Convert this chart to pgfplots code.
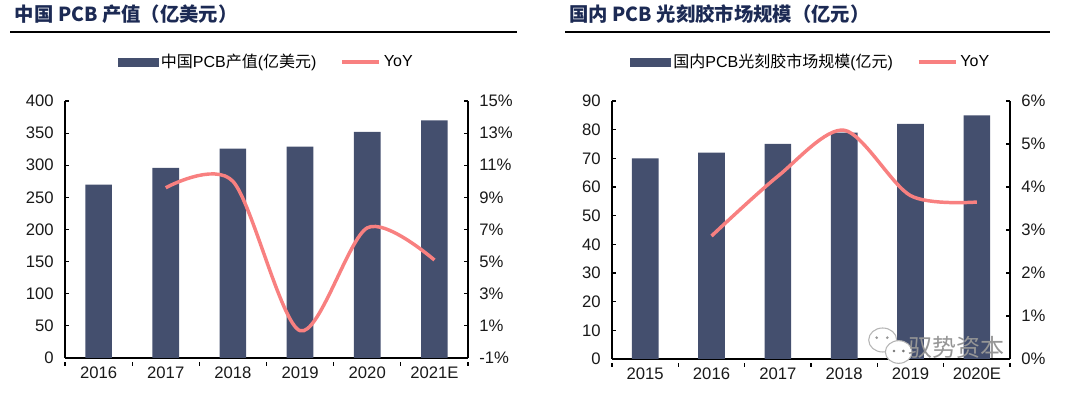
\documentclass[border=0pt]{standalone}
\usepackage{pgfplots}
\pgfplotsset{compat=1.18}
\usepackage{fontspec}
\setmainfont{Liberation Sans}
\newfontfamily\cjk{Noto Sans CJK SC}
\definecolor{barc}{RGB}{68,79,110}
\definecolor{linec}{RGB}{248,128,128}
\definecolor{titc}{RGB}{28,42,84}
\definecolor{wm}{RGB}{150,150,150}
\pgfplotsset{
  base/.style={scale only axis, xmin=-0.5, xmax=5.5,
    axis line style={line width=0.8pt, black},
    tick style={line width=0.8pt, black},
    major tick length=3pt,
    ticklabel style={font=\fontsize{12.5}{14}\selectfont, text=black!90},
    /pgf/number format/assume math mode=true},
  barax/.style={base, axis x line*=bottom, axis y line*=left,
    xtick={-0.5,0.5,...,5.5}, xticklabels={},
    xtick style={yshift=-3pt},
    extra x ticks={0,1,2,3,4,5},
    extra x tick style={major tick length=0pt, xticklabel style={yshift=-3pt}},
    yticklabel style={xshift=-5pt},
    ybar, bar width=20pt},
  lineax/.style={base, axis x line=none, axis y line*=right,
    yticklabel style={xshift=5pt},
    legend style={at={(0.5,1.152)}, anchor=center, draw=none, fill=none,
      legend columns=2, font=\fontsize{12}{14}\selectfont,
      /tikz/every even column/.append style={column sep=16pt}},
    legend cell align=left},
  barleg/.style={legend image code/.code={\fill[barc] (0pt,-3pt) rectangle (30pt,3pt);}},
  lineleg/.style={legend image code/.code={\draw[linec,line width=2.6pt] (0pt,0pt) -- (28pt,0pt);}},
}
\begin{document}
\begin{tikzpicture}
\path[use as bounding box] (0,0) rectangle (810pt,296.25pt);
% titles
\node[anchor=base west, text=titc, font=\cjk\bfseries\fontsize{14.5}{16}\selectfont, inner sep=0pt] at (11pt,280pt) {中国 PCB 产值（亿美元）};
\draw[line width=1.5pt] (7.5pt,272.25pt) -- (388pt,272.25pt);
\node[anchor=base west, text=titc, font=\cjk\bfseries\fontsize{14.5}{16}\selectfont, inner sep=0pt] at (427pt,280pt) {国内 PCB 光刻胶市场规模（亿元）};
\draw[line width=1.5pt] (423.75pt,272.25pt) -- (787.5pt,272.25pt);

% ---------- left chart ----------
\begin{axis}[barax, width=302.25pt, height=192.75pt, at={(48.75pt,27.75pt)}, anchor=south west,
  ymin=0, ymax=400, ytick={0,50,...,400},
  extra x tick labels={2016,2017,2018,2019,2020,2021E}]
\addplot[fill=barc, draw=none] coordinates {(0,270) (1,296) (2,326) (3,329) (4,352) (5,370)};
\end{axis}
\begin{axis}[lineax, width=302.25pt, height=192.75pt, at={(48.75pt,27.75pt)}, anchor=south west,
  ymin=-1, ymax=15, ytick={-1,1,3,5,7,9,11,13,15},
  yticklabels={-1\%,1\%,3\%,5\%,7\%,9\%,11\%,13\%,15\%}]
\addlegendimage{barleg}
\addlegendentry{{\cjk 中国}PCB{\cjk 产值}({\cjk 亿美元})}
\addplot[linec, line width=2.6pt, smooth, lineleg] coordinates {(1,9.6) (2,10.0) (3,0.7) (4,7.1) (5,5.1)};
\addlegendentry{YoY}
\end{axis}

% ---------- right chart ----------
\begin{axis}[barax, width=298.5pt, height=193.5pt, at={(459pt,27pt)}, anchor=south west,
  ymin=0, ymax=90, ytick={0,10,...,90},
  extra x tick labels={2015,2016,2017,2018,2019,2020E}]
\addplot[fill=barc, draw=none] coordinates {(0,70) (1,72) (2,75) (3,79) (4,82) (5,85)};
\end{axis}
\begin{axis}[lineax, width=298.5pt, height=193.5pt, at={(459pt,27pt)}, anchor=south west,
  ymin=0, ymax=6, ytick={0,1,...,6},
  yticklabels={0\%,1\%,2\%,3\%,4\%,5\%,6\%}]
\addlegendimage{barleg}
\addlegendentry{{\cjk 国内}PCB{\cjk 光刻胶市场规模}({\cjk 亿元})}
\addplot[linec, line width=2.6pt, smooth, lineleg] coordinates {(1,2.86) (2,4.25) (3,5.32) (4,3.8) (5,3.65)};
\addlegendentry{YoY}
\end{axis}

% watermark
\fill[white, draw=wm!70, line width=0.8pt] (662pt,41.25pt) ellipse (10.5pt and 9pt);
\fill[wm] (657.5pt,43pt) circle (1.1pt) (665.5pt,43pt) circle (1.1pt);
\fill[white, draw=wm!70, line width=0.8pt] (674pt,32.25pt) ellipse (10pt and 8.5pt);
\fill[wm!80!black] (670.5pt,33pt) circle (1.1pt) (677.5pt,33pt) circle (1.1pt);
\node[text=wm, font=\cjk\fontsize{18}{20}\selectfont, anchor=east] at (757pt,36pt) {驭势资本};
\end{tikzpicture}
\end{document}
